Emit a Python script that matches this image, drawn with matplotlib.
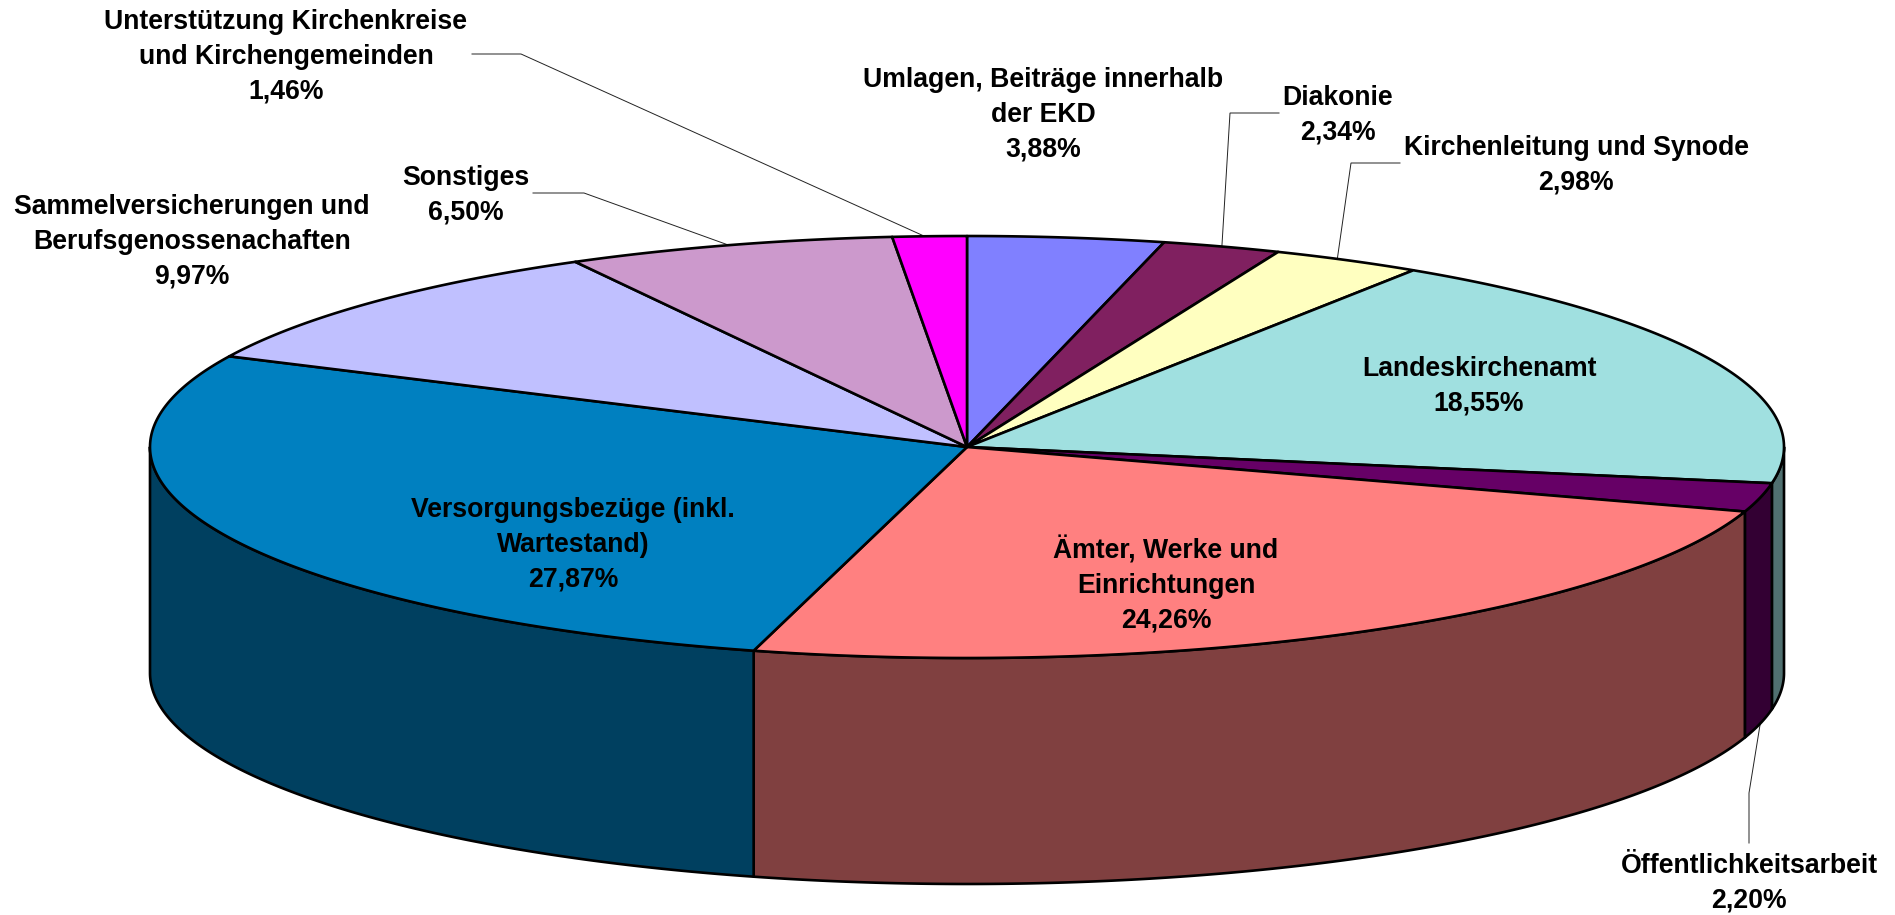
import numpy as np
import matplotlib
matplotlib.use("Agg")
import matplotlib.pyplot as plt

# slices, clockwise from 12 o'clock
names = [
    "Umlagen, Beiträge innerhalb\nder EKD",
    "Diakonie",
    "Kirchenleitung und Synode",
    "Landeskirchenamt",
    "Öffentlichkeitsarbeit",
    "Ämter, Werke und\nEinrichtungen",
    "Versorgungsbezüge (inkl.\nWartestand)",
    "Sammelversicherungen und\nBerufsgenossenachaften",
    "Sonstiges",
    "Unterstützung Kirchenkreise\nund Kirchengemeinden",
]
values = [3.88, 2.34, 2.98, 18.55, 2.20, 24.26, 27.87, 9.97, 6.50, 1.46]
top_colors = ["#8080FF", "#802060", "#FFFFC0", "#A0E0E0", "#660066",
              "#FF8080", "#0080C0", "#C0C0FF", "#CC99CC", "#FF00FF"]
side_colors = ["#404080", "#401030", "#808060", "#507070", "#330033",
               "#804040", "#004060", "#606080", "#664C66", "#800080"]

# layout, in pixels of the output image
CX, CY, RX, RY, DEPTH = 967, 447, 817, 211, 226
label_pos = [(1043, 115), (1338, 115), (1576, 165), (1479, 386), (1749, 883),
             (1166, 585), (573, 545), (192, 242), (466, 195), (286, 57)]
# leader lines: slice index -> text end, knee, angle nudge on the rim
leaders = {
    1: ((1279, 113), (1230, 113), 0),
    2: ((1400, 163), (1351, 163), -0.8),
    4: ((1749, 843), (1749, 793), 0),
    8: ((533, 193), (584, 193), 0),
    9: ((472, 54), (521, 54), -0.35),
}

plt.rcParams["font.family"] = ["Liberation Sans", "DejaVu Sans"]

fig = plt.figure(figsize=(18.95, 9.15), dpi=100)
ax = fig.add_axes([0, 0, 1, 1])
ax.set_xlim(0, 1895)
ax.set_ylim(915, 0)
ax.axis("off")


def rim(theta, dy=0):
    """Point(s) on the pie ellipse, theta in degrees clockwise from the top."""
    t = np.radians(theta)
    return CX + RX * np.sin(t), CY - RY * np.cos(t) + dy


edges = np.concatenate([[0], np.cumsum(values)]) / np.sum(values) * 360

# side walls, only the front half of the disc shows them
for i in range(len(values)):
    a, b = max(edges[i], 90), min(edges[i + 1], 270)
    if a >= b:
        continue
    arc = np.linspace(a, b, 200)
    x, y = rim(arc)
    xs = np.concatenate([x, x[::-1]])
    ys = np.concatenate([y, y[::-1] + DEPTH])
    ax.fill(xs, ys, facecolor=side_colors[i], edgecolor="black", lw=1.9,
            joinstyle="round", zorder=2)

# top faces
for i in range(len(values)):
    arc = np.linspace(edges[i], edges[i + 1], 300)
    x, y = rim(arc)
    ax.fill(np.r_[CX, x], np.r_[CY, y], facecolor=top_colors[i], edgecolor="black",
            lw=1.9, joinstyle="round", zorder=3)

# leader lines run to the middle of their slice on the rim
for i, (start, knee, nudge) in leaders.items():
    mid = (edges[i] + edges[i + 1]) / 2 + nudge
    ex, ey = rim(mid, DEPTH if 90 < mid < 270 else 0)
    ax.plot([start[0], knee[0], ex], [start[1], knee[1], ey], color="#222222",
            lw=0.7, zorder=1, solid_joinstyle="miter")

for name, val, pos in zip(names, values, label_pos):
    txt = name + "\n" + f"{val:.2f}".replace(".", ",") + "%"
    ax.text(pos[0], pos[1], txt, ha="center", va="center", ma="center",
            fontsize=19.2, fontweight="bold", color="black", linespacing=1.44, zorder=5)

fig.savefig("out.png", dpi=100, facecolor="white")
